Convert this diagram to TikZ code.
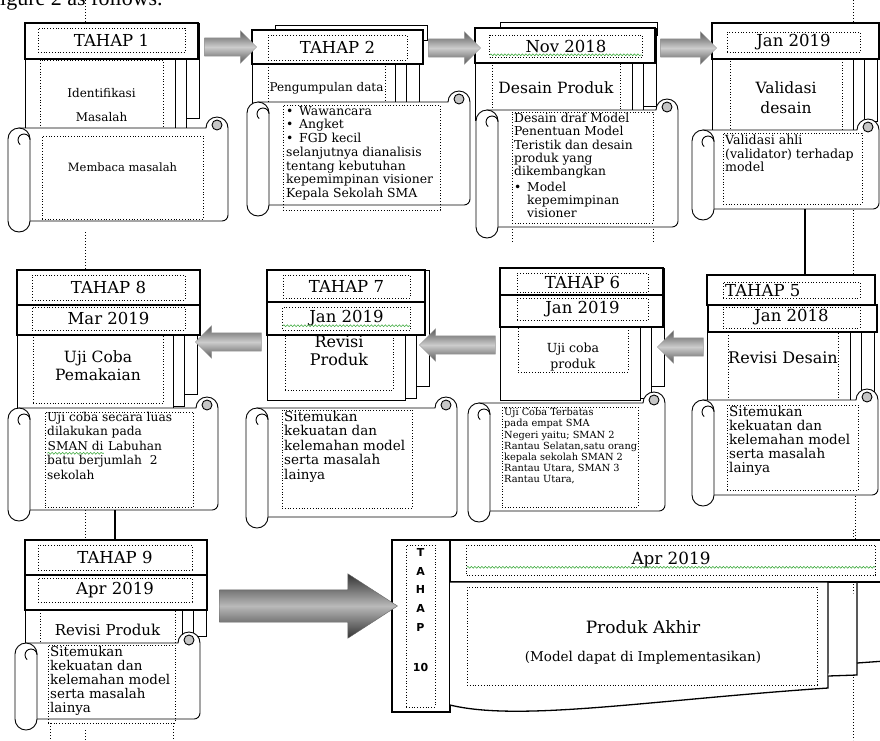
\documentclass[tikz,border=0pt]{standalone}
\usepackage{fontspec}
\setmainfont{DejaVu Serif}
\setsansfont{DejaVu Sans}
\newfontfamily\capfont{Liberation Serif}
\usetikzlibrary{shapes.arrows,calc,decorations.pathmorphing}

\definecolor{spellgreen}{RGB}{60,170,60}
\newcommand{\spellerr}[1]{\tikz[baseline=(w.base)]{\node[inner sep=0pt, draw=none, solid] (w) {#1};
  \draw[spellgreen, solid, line width=0.6pt, decorate, decoration={snake, amplitude=0.9pt, segment length=3.5pt}] ([yshift=-2.8pt]w.base west) -- ([yshift=-2.8pt]w.base east);}}
\newcommand{\fs}[2]{\fontsize{#1}{#2}\selectfont}
\newcommand{\bul}{\makebox[13pt][l]{\textbullet}}

% pages stacked behind a header: L T R B of the front page
\newcommand{\pagestack}[4]{%
  \draw[pg] (#1,-#2) rectangle ({#3+24},{-(#4-14)});
  \draw[pg] (#1,-#2) rectangle ({#3+11},{-(#4-2)});
  \draw[pg] (#1,-#2) rectangle (#3,-#4);
}
% horizontal scroll: L T R B
\newcommand{\scrollshape}[4]{%
  \draw[pg] ({#1+11},{-(#2+11)}) -- ({#3-22},{-(#2+11)})
    arc[start angle=180,end angle=0,radius=11]
    [rounded corners=6pt] -- (#3,{-(#4-11)}) -- ({#1+11},{-(#4-11)}) [sharp corners] -- cycle;
  \draw[pg, fill=gray!45] ({#3-11},{-(#2+8)}) circle (5);
  \draw[pg] (#1,{-(#2+22)}) arc[start angle=180,end angle=0,radius=11]
    -- ({#1+22},{-(#4-11)}) arc[start angle=0,end angle=-180,radius=11] -- cycle;
  \draw[pg] ({#1+22},{-(#2+23)}) arc[start angle=0,end angle=230,radius=6];
}

\begin{document}
\begin{tikzpicture}[
    x=1pt, y=1pt,
    hd/.style={draw, fill=white, line width=1.3pt},
    pg/.style={draw, fill=white, line width=0.9pt},
    dotbox/.style={
        rectangle,
        draw,
        dotted,
        line width=0.8pt,
        inner sep=0pt
    },
    txt/.style={inner sep=0pt, align=left, anchor=north west},
    ttl/.style={inner sep=0pt, align=center},
    flow/.style={
        single arrow,
        draw=gray!80,
        top color=black!65,
        bottom color=black!65,
        middle color=gray!40,
        inner xsep=0pt,
        inner ysep=9pt,
        single arrow head extend=7pt,
        minimum height=#1
    },
    bigflow/.style={
        single arrow,
        draw=black!60,
        top color=black!80,
        bottom color=black!80,
        middle color=gray!55,
        inner xsep=0pt,
        inner ysep=16pt,
        single arrow head extend=16pt,
        single arrow tip angle=66,
        minimum height=#1
    },
    link/.style={line width=2.4pt},
    guide/.style={dotted, line width=1pt}
]
\fill[white, use as bounding box] (0,0) rectangle (880,-740);

\node[anchor=base west, inner sep=0pt, font=\capfont\fs{22}{24}] (cap) at (0,-5) {igure 2 as follows.};

% guides
\draw[guide] (85,0) -- (85,-23);
\draw[guide] (85,-232) -- (85,-270);
\draw[guide] (853,0) -- (853,-23);
\draw[guide] (853,-204) -- (853,-275);
\draw[guide] (512,-223) -- (512,-242);
\draw[guide] (653,-223) -- (653,-242);
\draw[guide] (855,-490) -- (855,-540);
\draw[guide] (85,-507) -- (85,-540);
\draw[guide] (50,-723) -- (50,-740);
\draw[guide] (85,-730) -- (85,-740);
\draw[guide] (173,-723) -- (173,-740);
\draw[guide] (853,-530) -- (853,-740);

% stage 1
\pagestack{25}{23}{175}{132}
\draw[hd] (25,-23) rectangle (198,-59);
\node[dotbox, minimum width=147, minimum height=24, font=\fs{16.5}{18}] (h1) at (111.5,-40) {TAHAP 1};
\node[dotbox, minimum width=123, minimum height=70] (m1) at (101.5,-95) {};
\node[ttl, font=\fs{12}{24}] (m1t) at (101.5,-105) {Identifikasi\\Masalah};
\scrollshape{8}{117}{228}{232}
\node[dotbox, minimum width=161, minimum height=83] (s1) at (122.5,-177.5) {};
\node[ttl, font=\fs{11.5}{13}] (s1t) at (122.5,-167) {Membaca masalah};

% stage 2
\draw[pg] (275,-25) rectangle (427,-40);
\pagestack{252}{30}{395}{150}
\draw[hd] (252,-30) rectangle (423,-64);
\node[dotbox, minimum width=139, minimum height=25, font=\fs{16.5}{18}] (h2) at (337.5,-47.5) {TAHAP 2};
\node[dotbox, minimum width=117, minimum height=40] (m2) at (326.5,-84) {};
\node[ttl, font=\fs{12}{13}] (m2t) at (326.5,-88) {Pengumpulan data};
\scrollshape{247}{91}{470}{216}
\node[dotbox, minimum width=157, minimum height=105] (s2) at (361.5,-157.5) {};
\node[txt, font=\fs{12.4}{13.7}] (s2t) at (286,-106) {\bul Wawancara\\\bul Angket\\\bul FGD kecil\\selanjutnya dianalisis\\tentang kebutuhan\\kepemimpinan visioner\\Kepala Sekolah SMA};

% stage 3
\draw[pg] (500,-22) rectangle (657,-35);
\pagestack{475}{28}{632}{120}
\draw[hd] (475,-28) rectangle (655,-63);
\node[dotbox, minimum width=152, minimum height=22, font=\fs{16.5}{18}] (h3) at (566,-46) {\spellerr{Nov 2018}};
\node[dotbox, minimum width=128, minimum height=47] (m3) at (556,-86.5) {};
\node[ttl, font=\fs{15.5}{17}] (m3t) at (556,-88) {Desain Produk};
\scrollshape{476}{99}{678}{238}
\node[dotbox, minimum width=141, minimum height=111] (s3) at (582.5,-167.5) {};
\node[txt, font=\fs{12.3}{13.3}] (s3t) at (514,-113) {Desain draf Model\\Penentuan Model\\Teristik dan desain\\produk yang\\dikembangkan\\[2pt]\bul Model\\\hspace*{13pt}kepemimpinan\\\hspace*{13pt}visioner};

% stage 4
\pagestack{712}{23}{853}{135}
\draw[hd] (712,-23) rectangle (879,-59);
\node[dotbox, minimum width=133, minimum height=20, font=\fs{16.5}{18}] (h4) at (793.5,-42) {Jan 2019};
\node[dotbox, minimum width=112, minimum height=71] (m4) at (786,-94.5) {};
\node[ttl, font=\fs{15.5}{20}] (m4t) at (786,-98) {Validasi\\desain};
\scrollshape{692}{119}{879}{220}
\node[dotbox, minimum width=139, minimum height=71] (s4) at (792.5,-168.5) {};
\node[txt, font=\fs{12.6}{13.3}] (s4t) at (725,-135) {Validasi ahli\\(validator) terhadap\\model};
\coordinate (c4) at (805,-209);

% stage 5
\pagestack{707}{275}{850}{405}
\draw[hd] (707,-275) rectangle (875,-305);
\draw[hd] (708,-305) rectangle (877,-332);
\node[dotbox, minimum width=137, minimum height=16] (h5) at (791.5,-290) {};
\node[anchor=west, inner sep=0pt, font=\fs{16.5}{18}] (h5t) at (725,-291) {TAHAP 5};
\node[dotbox, minimum width=137, minimum height=21, font=\fs{16.5}{18}] (d5) at (791.5,-317.5) {Jan 2018};
\node[dotbox, minimum width=110, minimum height=68] (m5) at (783,-366) {};
\node[ttl, font=\fs{16}{17}] (m5t) at (783,-358) {Revisi Desain};
\scrollshape{692}{389}{878}{506}
\node[dotbox, minimum width=131, minimum height=85] (s5) at (792.5,-447.5) {};
\node[txt, font=\fs{13.5}{14}] (s5t) at (729,-406) {Sitemukan\\kekuatan dan\\kelemahan model\\serta masalah\\lainya};

% stage 6
\pagestack{500}{268}{640}{400}
\draw[hd] (500,-268) rectangle (663,-295);
\draw[hd] (500,-295) rectangle (663,-327);
\node[dotbox, minimum width=131, minimum height=19, font=\fs{16.5}{18}] (h6) at (582.5,-282.5) {TAHAP 6};
\node[dotbox, minimum width=131, minimum height=22, font=\fs{16.5}{18}] (d6) at (582.5,-309) {Jan 2019};
\node[dotbox, minimum width=110, minimum height=45] (m6) at (573,-349.5) {};
\node[ttl, font=\fs{12.5}{16}] (m6t) at (573,-357) {Uji coba\\produk};
\scrollshape{468}{392}{665}{522}
\node[dotbox, minimum width=136, minimum height=100] (s6) at (570,-457) {};
\node[txt, font=\fs{9.8}{11.2}] (s6t) at (504,-408) {Uji Coba Terbatas\\pada empat SMA\\Negeri yaitu; SMAN 2\\Rantau Selatan,satu orang\\kepala sekolah SMAN 2\\Rantau Utara, SMAN 3\\Rantau Utara,};

% stage 7
\pagestack{267}{270}{405}{400}
\draw[hd] (267,-270) rectangle (425,-302);
\draw[hd] (267,-302) rectangle (425,-335);
\node[dotbox, minimum width=127, minimum height=23, font=\fs{16.5}{18}] (h7) at (346.5,-286.5) {TAHAP 7};
\node[dotbox, minimum width=127, minimum height=23, font=\fs{16.5}{18}] (d7) at (346.5,-318.5) {\spellerr{Jan 2019}};
\node[dotbox, minimum width=108, minimum height=55] (m7) at (339,-362.5) {};
\node[ttl, font=\fs{16}{18}] (m7t) at (339,-351) {Revisi\\Produk};
\scrollshape{246}{397}{457}{528}
\node[dotbox, minimum width=130, minimum height=98] (s7) at (347,-459) {};
\node[txt, font=\fs{13.5}{14.5}] (s7t) at (284,-411) {Sitemukan\\kekuatan dan\\kelemahan model\\serta masalah\\lainya};

% stage 8
\pagestack{17}{270}{173}{408}
\draw[hd] (17,-270) rectangle (200,-305);
\draw[hd] (17,-305) rectangle (200,-335);
\node[dotbox, minimum width=153, minimum height=25, font=\fs{16.5}{18}] (h8) at (108.5,-287.5) {TAHAP 8};
\node[dotbox, minimum width=153, minimum height=23, font=\fs{16.5}{18}] (d8) at (108.5,-318.5) {Mar 2019};
\node[dotbox, minimum width=130, minimum height=68] (m8) at (98,-369) {};
\node[ttl, font=\fs{15.5}{18}] (m8t) at (98,-366) {Uji Coba\\Pemakaian};
\scrollshape{8}{397}{218}{521}
\node[dotbox, minimum width=148, minimum height=95] (s8) at (119,-459.5) {};
\node[txt, font=\fs{12.2}{14.5}] (s8t) at (47,-412) {Uji coba secara luas\\dilakukan pada\\\spellerr{SMAN di} Labuhan\\batu berjumlah~~2\\sekolah};
\coordinate (c8) at (115,-510);

% stage 9
\pagestack{25}{540}{182}{650}
\draw[hd] (25,-540) rectangle (207,-575);
\draw[hd] (25,-575) rectangle (207,-610);
\node[dotbox, minimum width=154, minimum height=25, font=\fs{16.5}{18}] (h9) at (115,-557.5) {TAHAP 9};
\node[dotbox, minimum width=154, minimum height=24, font=\fs{16.5}{18}] (d9) at (115,-590) {Apr 2019};
\node[dotbox, minimum width=135, minimum height=35] (m9) at (107.5,-627.5) {};
\node[ttl, font=\fs{15}{17}] (m9t) at (107.5,-630) {Revisi Produk};
\scrollshape{15}{632}{200}{730}
\node[dotbox, minimum width=127, minimum height=78] (s9) at (111.5,-684) {};
\node[txt, font=\fs{13.4}{14}] (s9t) at (50,-646) {Sitemukan\\kekuatan dan\\kelemahan model\\serta masalah\\lainya};

% stage 10
\draw[hd] (450,-540) rectangle (885,-582);
\draw[hd] (392,-540) rectangle (450,-712);
\draw[hd] (450,-582) -- (828,-582) -- (828,-688) .. controls (650,-700) and (520,-722) .. (450,-705);
\draw[hd] (857,-582) -- (857,-675) -- (828,-676);
\draw[hd] (857,-663) -- (885,-661);
\node[dotbox, minimum width=29, minimum height=162] (t10) at (420.5,-626) {};
\node[ttl, anchor=north, font=\sffamily\bfseries\fs{11}{18.8}] (t10t) at (420.5,-548) {T\\A\\H\\A\\P\\[21pt]10};
\node[dotbox, minimum width=408, minimum height=30, font=\fs{16.8}{18}] (d10) at (671,-560) {\spellerr{Apr 2019}};
\node[dotbox, minimum width=350, minimum height=98] (b10) at (642,-636) {};
\node[ttl, font=\fs{17}{18}] (pa) at (643,-627) {Produk Akhir};
\node[ttl, font=\fs{13.5}{15}] (pm) at (643,-658) {(Model dapat di Implementasikan)};

% arrows
\node[flow=52] (a12) at (226,-47) {};
\node[flow=52] (a23) at (450,-48) {};
\node[flow=56] (a34) at (684,-48) {};
\node[flow=46, shape border rotate=180] (a56) at (685,-347) {};
\node[flow=76, shape border rotate=180] (a67) at (462,-345) {};
\node[flow=66, shape border rotate=180] (a78) at (233,-342) {};
\node[bigflow=178] (a910) at (296,-606) {};

% lines
\draw[link] (c4) -- ($(c4 |- h5.north)+(0,7)$);
\draw[link] (c8) -- ($(c8 |- h9.north)+(0,5)$);
\end{tikzpicture}
\end{document}
